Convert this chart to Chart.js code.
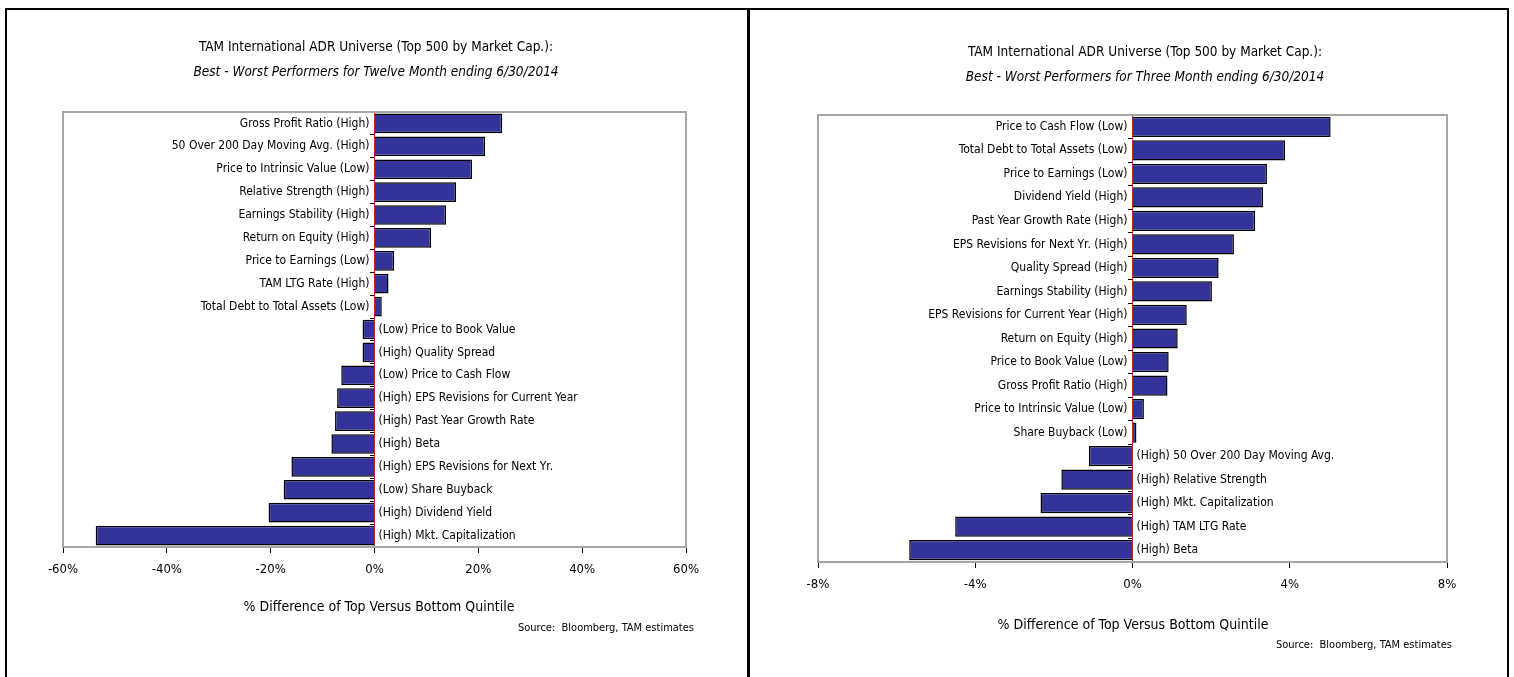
<!DOCTYPE html>
<html>
<head>
<meta charset="utf-8">
<script src="https://cdn.jsdelivr.net/npm/chart.js@4"></script>
<style>
  html, body { margin:0; padding:0; background:#fff; width:1514px; height:677px; overflow:hidden; }
  body { position:relative; font-family:'Liberation Sans Narrow','DejaVu Sans Condensed',sans-serif; }
  .panel { position:absolute; border:2px solid #000; box-sizing:border-box; }
  .cv { position:absolute; top:0; }
  .txt { position:absolute; white-space:nowrap; color:#000; }
  .c { transform:translateX(-50%); }
  .r { transform:translateX(-100%); }
</style>
</head>
<body>
<div class="panel" style="left:5px; top:8px; width:745px; height:720px;"></div>
<div class="panel" style="left:747px; top:8px; width:762px; height:720px;"></div>

<div class="cv" style="left:0; width:750px; height:677px;"><canvas id="c1"></canvas></div>
<div class="cv" style="left:750px; width:764px; height:677px;"><canvas id="c2"></canvas></div>

<div class="txt c" style="left:376px; top:38px; font-size:13.5px;">TAM International ADR Universe (Top 500 by Market Cap.):</div>
<div class="txt c" style="left:376px; top:63px; font-size:13.5px; font-style:italic;">Best - Worst Performers for Twelve Month ending 6/30/2014</div>
<div class="txt c" style="left:379px; top:598px; font-size:14px;">% Difference of Top Versus Bottom Quintile</div>
<div class="txt r" style="left:694px; top:621px; font-size:11px;">Source:&nbsp; Bloomberg, TAM estimates</div>

<div class="txt c" style="left:1145px; top:43px; font-size:13.5px;">TAM International ADR Universe (Top 500 by Market Cap.):</div>
<div class="txt c" style="left:1145px; top:68px; font-size:13.5px; font-style:italic;">Best - Worst Performers for Three Month ending 6/30/2014</div>
<div class="txt c" style="left:1133px; top:616px; font-size:14px;">% Difference of Top Versus Bottom Quintile</div>
<div class="txt r" style="left:1452px; top:638px; font-size:11px;">Source:&nbsp; Bloomberg, TAM estimates</div>

<script>
// ---- Twelve month data ----
const leftLabels = [
  "Gross Profit Ratio (High)",
  "50 Over 200 Day Moving Avg. (High)",
  "Price to Intrinsic Value (Low)",
  "Relative Strength (High)",
  "Earnings Stability (High)",
  "Return on Equity (High)",
  "Price to Earnings (Low)",
  "TAM LTG Rate (High)",
  "Total Debt to Total Assets (Low)",
  "(Low) Price to Book Value",
  "(High) Quality Spread",
  "(Low) Price to Cash Flow",
  "(High) EPS Revisions for Current Year",
  "(High) Past Year Growth Rate",
  "(High) Beta",
  "(High) EPS Revisions for Next Yr.",
  "(Low) Share Buyback",
  "(High) Dividend Yield",
  "(High) Mkt. Capitalization"
];
const leftValues = [24.6, 21.3, 18.8, 15.7, 13.8, 10.9, 3.8, 2.7, 1.4,
  -2.3, -2.3, -6.4, -7.2, -7.6, -8.3, -16.0, -17.5, -20.4, -53.7];
const leftTicks = { min: -60, max: 60, step: 20 };

// ---- Three month data ----
const rightLabels = [
  "Price to Cash Flow (Low)",
  "Total Debt to Total Assets (Low)",
  "Price to Earnings (Low)",
  "Dividend Yield (High)",
  "Past Year Growth Rate (High)",
  "EPS Revisions for Next Yr. (High)",
  "Quality Spread (High)",
  "Earnings Stability (High)",
  "EPS Revisions for Current Year (High)",
  "Return on Equity (High)",
  "Price to Book Value (Low)",
  "Gross Profit Ratio (High)",
  "Price to Intrinsic Value (Low)",
  "Share Buyback (Low)",
  "(High) 50 Over 200 Day Moving Avg.",
  "(High) Relative Strength",
  "(High) Mkt. Capitalization",
  "(High) TAM LTG Rate",
  "(High) Beta"
];
const rightValues = [5.04, 3.88, 3.42, 3.32, 3.12, 2.58, 2.19, 2.02, 1.38, 1.15,
  0.92, 0.89, 0.29, 0.10, -1.11, -1.81, -2.34, -4.51, -5.68];
const rightTicks = { min: -8, max: 8, step: 4 };

const FONT = "'Liberation Sans Narrow','DejaVu Sans Condensed',sans-serif";

const framePlugin = {
  id: 'frame',
  beforeDatasetsDraw(chart) {
    const a = chart.chartArea, ctx = chart.ctx;
    ctx.save();
    ctx.strokeStyle = '#a6a6a6';
    ctx.lineWidth = 2;
    ctx.strokeRect(a.left, a.top, a.right - a.left, a.bottom - a.top);
    ctx.restore();
  }
};

const labelPlugin = {
  id: 'zeroLabels',
  afterDatasetsDraw(chart) {
    const ctx = chart.ctx;
    const x0 = chart.scales.x.getPixelForValue(0);
    const meta = chart.getDatasetMeta(0);
    const vals = chart.data.datasets[0].data;
    ctx.save();
    ctx.font = '12px ' + FONT;
    ctx.fillStyle = '#000';
    ctx.textBaseline = 'middle';
    meta.data.forEach((bar, i) => {
      const txt = chart.data.labels[i];
      if (vals[i] >= 0) { ctx.textAlign = 'right'; ctx.fillText(txt, x0 - 5, bar.y); }
      else { ctx.textAlign = 'left'; ctx.fillText(txt, x0 + 4, bar.y); }
    });
    ctx.restore();
  }
};

function makeChart(id, labels, values, ticks, pad) {
  return new Chart(document.getElementById(id), {
    type: 'bar',
    data: {
      labels: labels,
      datasets: [{
        data: values,
        backgroundColor: '#333399',
        borderColor: '#000000',
        borderWidth: 1.5,
        barPercentage: 0.86,
        categoryPercentage: 1.0
      }]
    },
    options: {
      indexAxis: 'y',
      responsive: true,
      maintainAspectRatio: false,
      animation: false,
      layout: { padding: pad },
      plugins: { legend: { display: false }, tooltip: { enabled: false } },
      scales: {
        x: {
          type: 'linear',
          min: ticks.min, max: ticks.max,
          afterFit(s) { s.height = 30; },
          afterBuildTicks(s) {
            const t = [];
            for (let v = ticks.min; v <= ticks.max + 1e-9; v += ticks.step) t.push({ value: v });
            s.ticks = t;
          },
          ticks: {
            callback: v => v + '%',
            font: { family: FONT, size: 13 },
            color: '#000',
            padding: 9,
            maxRotation: 0
          },
          grid: { drawOnChartArea: false, drawTicks: true, tickLength: 6, color: '#000', lineWidth: 1 },
          border: { display: true, color: '#404040', width: 2 }
        },
        y: {
          type: 'category',
          position: { x: 0 },
          afterFit(s) { s.width = 0; },
          ticks: { display: false },
          grid: { offset: true, drawOnChartArea: false, drawTicks: true, tickLength: 4, color: '#000', lineWidth: 1 },
          border: { display: true, color: '#b03030', width: 1 }
        }
      }
    },
    plugins: [framePlugin, labelPlugin]
  });
}

makeChart('c1', leftLabels, leftValues, leftTicks, { left: 63, right: 64, top: 112, bottom: 100 });
makeChart('c2', rightLabels, rightValues, rightTicks, { left: 68, right: 67, top: 115, bottom: 85 });
</script>
</body>
</html>
